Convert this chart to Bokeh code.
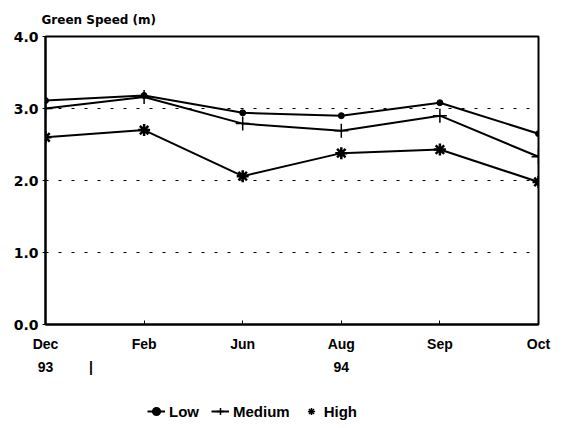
from bokeh.plotting import figure
from bokeh.layouts import column
from bokeh.models import Range1d, FixedTicker, Legend, LegendItem, LinearAxis
from bokeh.embed import file_html
from bokeh.resources import INLINE

months = ["Dec", "Feb", "Jun", "Aug", "Sep", "Oct"]
year_labels = ["93", "|", "94"]
year_pos = [0.0, 0.46, 3.0]
low = [3.11, 3.18, 2.94, 2.90, 3.08, 2.65]
medium = [3.00, 3.16, 2.79, 2.69, 2.90, 2.33]
high = [2.60, 2.70, 2.06, 2.38, 2.43, 1.98]
series_names = ["Low", "Medium", "High"]
y_ticks = [0.0, 1.0, 2.0, 3.0, 4.0]

FONT = "Liberation Sans"
WIDE = "DejaVu Sans"
xs = list(range(len(months)))

p = figure(width=569, height=395, output_backend="svg", toolbar_location=None,
           x_range=Range1d(0, len(months) - 1), y_range=Range1d(0, 4),
           min_border_left=45, min_border_right=31, min_border_top=35,
           min_border_bottom=71)
p.background_fill_color = "white"
p.border_fill_color = "white"
p.outline_line_color = "black"
p.outline_line_width = 2

p.title.text = "Green Speed (m)"
p.title.text_font = WIDE
p.title.text_font_size = "12px"
p.title.text_font_style = "bold"
p.title.text_color = "black"
p.title.offset = -4
p.title.standoff = 20

p.xaxis.ticker = FixedTicker(ticks=xs)
p.xaxis.major_label_overrides = {i: m for i, m in enumerate(months)}
p.yaxis.ticker = FixedTicker(ticks=y_ticks)
p.yaxis.major_label_overrides = {t: f"{t:.1f}" for t in y_ticks}
for ax in (p.xaxis[0], p.yaxis[0]):
    ax.axis_line_width = 2
    ax.axis_line_color = "black"
    ax.major_label_text_font = FONT
    ax.major_label_text_font_style = "bold"
    ax.major_label_text_font_size = "14px"
    ax.major_label_text_color = "black"
    ax.minor_tick_line_color = None
    ax.major_tick_line_color = "black"
p.yaxis.major_label_text_font = WIDE
p.xaxis.major_tick_in = 4
p.xaxis.major_tick_out = 0
p.xaxis.major_label_standoff = 11
p.yaxis.major_tick_in = 0
p.yaxis.major_tick_out = 3
p.yaxis.major_label_standoff = 4

yr_axis = LinearAxis(ticker=FixedTicker(ticks=year_pos),
                     major_label_overrides={v: t for v, t in zip(year_pos, year_labels)},
                     axis_line_color=None, major_tick_line_color=None,
                     major_tick_in=0, major_tick_out=0,
                     minor_tick_line_color=None, major_label_standoff=4,
                     major_label_text_font=FONT, major_label_text_font_style="bold",
                     major_label_text_font_size="14px", major_label_text_color="black")
p.add_layout(yr_axis, "below")

p.xgrid.grid_line_color = None
p.ygrid.ticker = FixedTicker(ticks=[1.0, 2.0, 3.0])
p.ygrid.grid_line_color = "black"
p.ygrid.grid_line_width = 1
p.ygrid.grid_line_dash = "3 10"

markers = ["circle", "cross", "asterisk"]
msizes = [6, 14, 12]
mwidths = [1, 1.5, 2.5]
for vals, mk, ms, mw in zip([low, medium, high], markers, msizes, mwidths):
    p.line(xs, vals, line_color="black", line_width=2)
    p.scatter(xs, vals, marker=mk, size=ms, color="black", line_width=mw)

# legend strip below the chart (same series, off-range so only the legend shows)
lf = figure(width=569, height=33, output_backend="svg", toolbar_location=None,
            x_range=Range1d(100, 101), y_range=Range1d(100, 101),
            min_border=0, outline_line_color=None)
lf.axis.visible = False
lf.grid.visible = False
items = []
leg_widths = [2, 1.5, 1.5]
for name, vals, mk, mw in zip(series_names, [low, medium, high], markers, leg_widths):
    rl = lf.line(xs, vals, line_color="black", line_width=2)
    rm = lf.scatter(xs, vals, marker=mk, color="black", line_width=mw)
    items.append(LegendItem(label=name, renderers=[rl, rm] if name != "High" else [rm]))
legend = Legend(items=items, orientation="horizontal", location=(102, 8),
                label_text_font=FONT, label_text_font_style="bold",
                label_text_font_size="15px", label_text_color="black",
                border_line_color=None, background_fill_alpha=0, spacing=12,
                glyph_width=18, glyph_height=18, label_height=16, label_standoff=4,
                padding=0, margin=0)
lf.add_layout(legend)

open("out.html", "w").write(file_html(column(p, lf, spacing=0), INLINE))
